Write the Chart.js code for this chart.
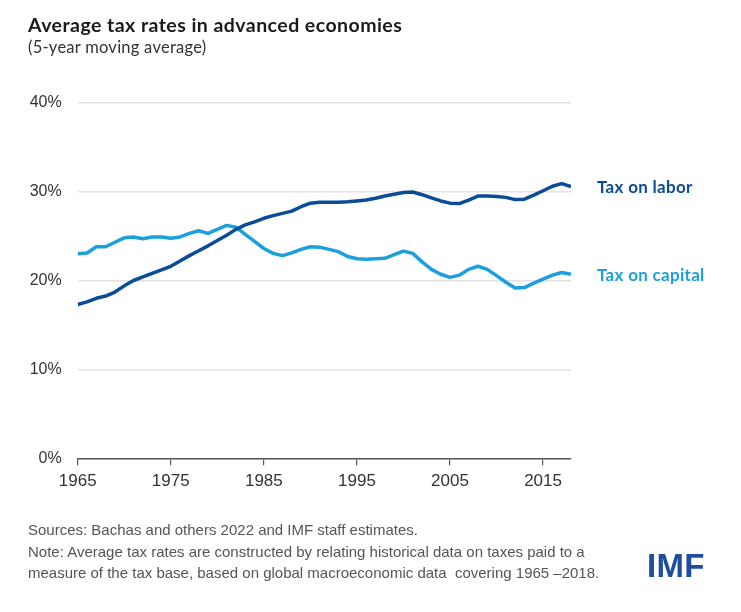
<!DOCTYPE html>
<html>
<head>
<meta charset="utf-8">
<script src="https://cdn.jsdelivr.net/npm/chart.js@4"></script>
<style>
  html, body { margin: 0; padding: 0; background: #ffffff; }
  #wrap { position: relative; width: 741px; height: 612px; overflow: hidden; background: #fff; }
  #c { position: absolute; left: 0; top: 0; }
  .t { position: absolute; white-space: nowrap; }
  #title { left: 28px; top: 13px; font: bold 19.5px "Lato", "Liberation Sans", sans-serif; letter-spacing: 0.45px; color: #1a1a1a; }
  #sub { left: 28px; top: 37px; font: 16.5px "Lato", "Liberation Sans", sans-serif; letter-spacing: 0.25px; color: #333; }
  .lab { font: bold 17px "Lato", "Liberation Sans", sans-serif; letter-spacing: 0.3px; }
  #labL { left: 597px; top: 176px; color: #0b4c98; }
  #labC { left: 597px; top: 264px; color: #1ba0dd; }
  .foot { left: 28px; font: 15px "Liberation Sans", sans-serif; color: #555; }
  #f1 { top: 521px; }
  #f2 { top: 543px; }
  #f3 { top: 564px; }
  #imf { left: 647px; top: 547px; font: bold 33px "Liberation Sans", sans-serif; color: #1d4f9e; letter-spacing: 0.3px; }
</style>
</head>
<body>
<div id="wrap">
  <canvas id="c" width="741" height="612"></canvas>
  <div class="t" id="title">Average tax rates in advanced economies</div>
  <div class="t" id="sub">(5-year moving average)</div>
  <div class="t lab" id="labL">Tax on labor</div>
  <div class="t lab" id="labC">Tax on capital</div>
  <div class="t foot" id="f1">Sources: Bachas and others 2022 and IMF staff estimates.</div>
  <div class="t foot" id="f2">Note: Average tax rates are constructed by relating historical data on taxes paid to a</div>
  <div class="t foot" id="f3">measure of the tax base, based on global macroeconomic data&nbsp; covering 1965 –2018.</div>
  <div class="t" id="imf">IMF</div>
</div>
<script>
const years = [1965,1966,1967,1968,1969,1970,1971,1972,1973,1974,1975,1976,1977,1978,1979,1980,1981,1982,1983,1984,1985,1986,1987,1988,1989,1990,1991,1992,1993,1994,1995,1996,1997,1998,1999,2000,2001,2002,2003,2004,2005,2006,2007,2008,2009,2010,2011,2012,2013,2014,2015,2016,2017,2018];
const taxOnLabor = [17.3,17.6,18.0,18.25,18.7,19.4,20.0,20.4,20.8,21.2,21.6,22.2,22.8,23.35,23.9,24.5,25.1,25.75,26.25,26.6,27.0,27.3,27.55,27.8,28.3,28.7,28.8,28.8,28.8,28.85,28.95,29.05,29.25,29.5,29.7,29.9,29.95,29.65,29.3,28.95,28.7,28.65,29.05,29.5,29.5,29.45,29.35,29.1,29.15,29.6,30.1,30.6,30.9,30.55];
const taxOnCapital = [23.0,23.1,23.8,23.8,24.3,24.8,24.9,24.7,24.9,24.9,24.75,24.9,25.3,25.6,25.3,25.75,26.2,26.0,25.2,24.4,23.6,23.05,22.8,23.1,23.5,23.8,23.75,23.5,23.25,22.7,22.45,22.4,22.45,22.5,22.9,23.3,23.05,22.1,21.25,20.7,20.35,20.6,21.25,21.6,21.25,20.55,19.8,19.15,19.2,19.7,20.15,20.6,20.9,20.7];
const xTicks = [1965,1975,1985,1995,2005,2015];
const yTicks = [0,10,20,30,40];

const toPts = arr => years.map((y, i) => ({x: y, y: arr[i]}));

new Chart(document.getElementById('c'), {
  type: 'line',
  data: {
    datasets: [
      { label: 'Tax on labor', data: toPts(taxOnLabor), borderColor: '#0b4c98', borderWidth: 3.5, pointRadius: 0, tension: 0, borderCapStyle: 'butt', borderJoinStyle: 'round' },
      { label: 'Tax on capital', data: toPts(taxOnCapital), borderColor: '#1ba0dd', borderWidth: 3.5, pointRadius: 0, tension: 0, borderCapStyle: 'butt', borderJoinStyle: 'round' }
    ]
  },
  options: {
    responsive: false,
    animation: false,
    layout: { padding: { top: 102.7, right: 170, bottom: 113.7, left: 0 } },
    plugins: { legend: { display: false }, tooltip: { enabled: false } },
    scales: {
      x: {
        type: 'linear', min: 1965, max: 2018,
        afterBuildTicks: s => { s.ticks = xTicks.map(v => ({value: v})); },
        afterFit: s => { s.height = 40; },
        grid: { display: true, drawOnChartArea: false, drawTicks: true, tickLength: 7, color: '#555', lineWidth: 1.2 },
        border: { display: true, color: '#555', width: 1.5 },
        ticks: { padding: 6, color: '#333', font: { family: '"Liberation Sans"', size: 17 }, maxRotation: 0, autoSkip: false, callback: v => String(v) }
      },
      y: {
        min: 0, max: 40,
        afterBuildTicks: s => { s.ticks = yTicks.map(v => ({value: v})); },
        afterFit: s => { s.width = 77.7; },
        grid: { color: '#e2e2e2', lineWidth: 1.5, drawTicks: false },
        border: { display: false },
        ticks: { padding: 16, color: '#333', font: { family: '"Liberation Sans"', size: 16 }, callback: v => v + '%' }
      }
    }
  }
});
</script>
</body>
</html>
